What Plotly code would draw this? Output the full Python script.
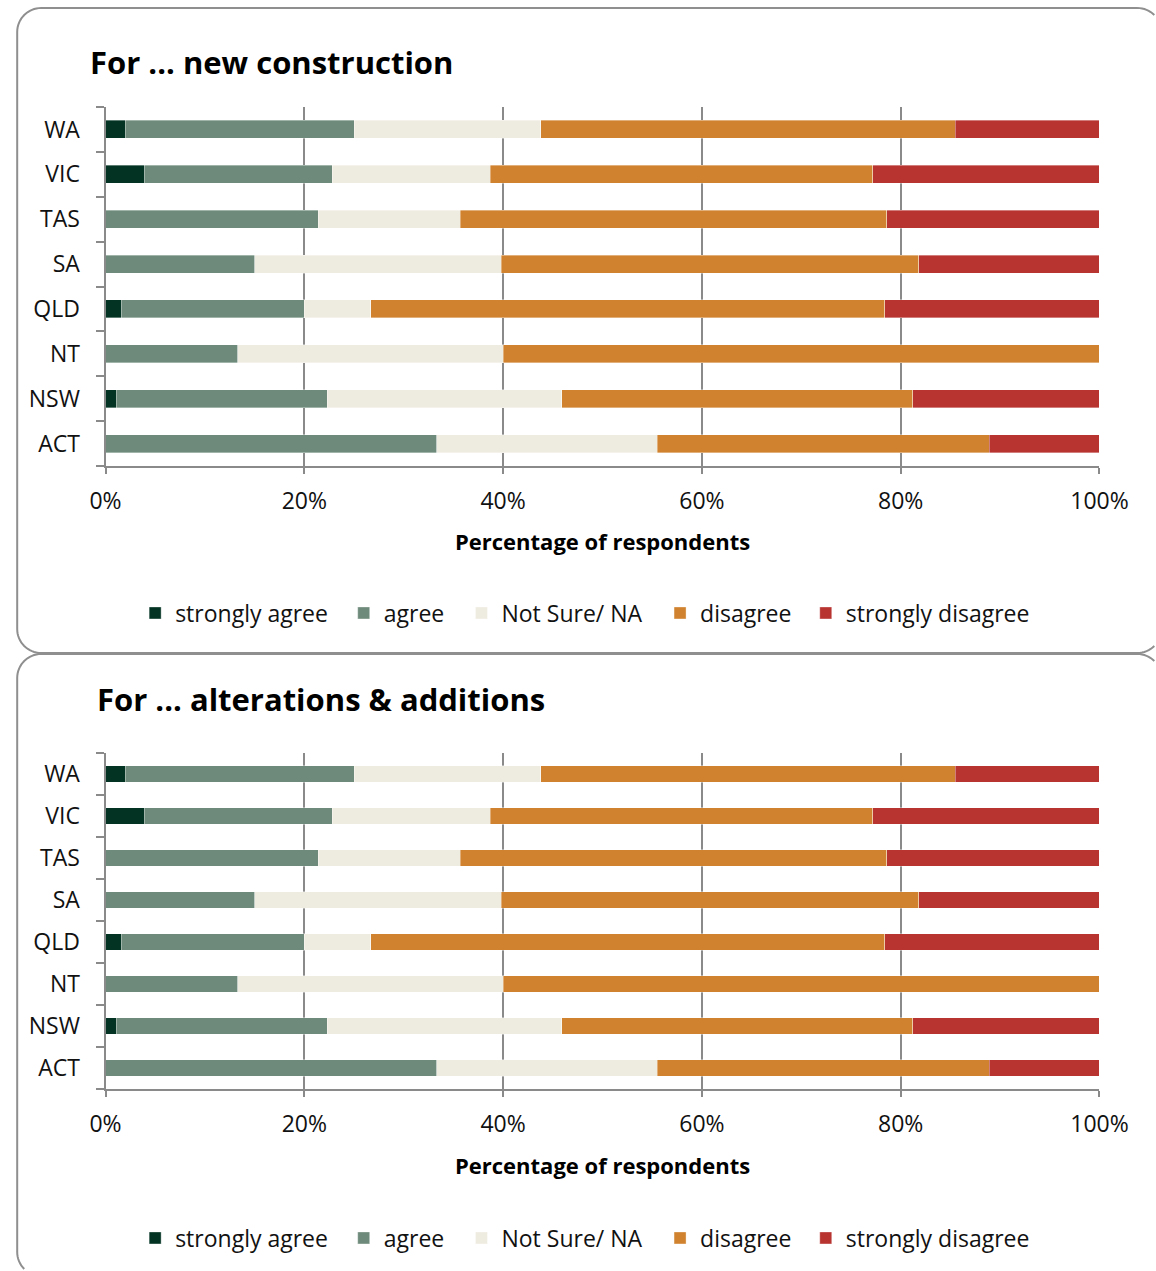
import math
import plotly.graph_objects as go

# Reference picture size and the figure's page size
REF_W, H = 1156, 1271
W = 1185
# observed horizontal mapping from page pixels to picture pixels: pic = A + S * page
A, S = 14.3, 0.964

categories = ["ACT", "NSW", "NT", "QLD", "SA", "TAS", "VIC", "WA"]
series_names = ["strongly agree", "agree", "Not Sure/ NA", "disagree", "strongly disagree"]
series_colors = ["#033322", "#6d8a7a", "#eeebe0", "#d0822e", "#b73431"]
x_tickvals = [0, 20, 40, 60, 80, 100]
x_ticktext = ["0%", "20%", "40%", "60%", "80%", "100%"]

# Panel 1: new construction (percent of respondents)
new_strongly_agree = [0, 1.1, 0, 1.6, 0, 0, 3.9, 2.0]
new_agree = [33.3, 21.2, 13.3, 18.4, 15.0, 21.4, 18.9, 23.0]
new_not_sure = [22.2, 23.6, 26.7, 6.7, 24.8, 14.3, 15.9, 18.8]
new_disagree = [33.4, 35.3, 60.0, 51.7, 42.0, 42.9, 38.5, 41.7]
new_strongly_disagree = [11.1, 18.8, 0, 21.6, 18.2, 21.4, 22.8, 14.5]

# Panel 2: alterations & additions
alt_strongly_agree = [0, 1.1, 0, 1.6, 0, 0, 3.9, 2.0]
alt_agree = [33.3, 21.2, 13.3, 18.4, 15.0, 21.4, 18.9, 23.0]
alt_not_sure = [22.2, 23.6, 26.7, 6.7, 24.8, 14.3, 15.9, 18.8]
alt_disagree = [33.4, 35.3, 60.0, 51.7, 42.0, 42.9, 38.5, 41.7]
alt_strongly_disagree = [11.1, 18.8, 0, 21.6, 18.2, 21.4, 22.8, 14.5]

FONT = "Open Sans"
GRID = "#8a8a8a"
TICK_SIZE = 23


def page_x(ref_px):
    return (ref_px - A) / S


def px_x(ref_px):
    return page_x(ref_px) / W


def px_y(v):
    return 1 - v / H


legend_symbol_x = [152, 361, 479, 678, 824]

panels = [
    dict(data=[new_strongly_agree, new_agree, new_not_sure, new_disagree, new_strongly_disagree],
         xa="x", ya="y", legend_y=613, box=(107, 466)),
    dict(data=[alt_strongly_agree, alt_agree, alt_not_sure, alt_disagree, alt_strongly_disagree],
         xa="x2", ya="y2", legend_y=1238, box=(753, 1089)),
]

fig = go.Figure()
legends = {}
k = 0
for p in panels:
    for si, (name, vals, col) in enumerate(zip(series_names, p["data"], series_colors)):
        k += 1
        lname = "legend" if k == 1 else f"legend{k}"
        fig.add_trace(go.Bar(
            y=categories, x=vals, name=name, orientation="h",
            marker=dict(color=col, line=dict(color="rgba(255,255,255,0.6)", width=0.6)),
            xaxis=p["xa"], yaxis=p["ya"], legend=lname,
            hovertemplate="%{y}: %{x}%<extra>" + name + "</extra>",
        ))
        legends[lname] = dict(
            orientation="h", x=(page_x(legend_symbol_x[si]) - 19) / W, xanchor="left",
            y=px_y(p["legend_y"]), yanchor="middle",
            font=dict(family=FONT, size=TICK_SIZE, color="#111"),
            itemwidth=30, bgcolor="rgba(0,0,0,0)", borderwidth=0,
        )

xaxis_common = dict(
    range=[0, 100], tickmode="array", tickvals=x_tickvals, ticktext=x_ticktext,
    showgrid=True, gridcolor=GRID, gridwidth=2,
    showline=True, linecolor=GRID, linewidth=2,
    ticks="outside", ticklen=6, tickwidth=2, tickcolor=GRID,
    zeroline=False, ticklabelstandoff=7,
    tickfont=dict(family=FONT, size=TICK_SIZE, color="#111"),
    fixedrange=True,
)
yaxis_common = dict(
    type="category", categoryorder="array", categoryarray=categories,
    showgrid=False, showline=True, linecolor=GRID, linewidth=2,
    ticks="outside", tickson="boundaries", ticklen=8, tickwidth=2, tickcolor=GRID,
    ticklabelstandoff=19,
    tickfont=dict(family=FONT, size=TICK_SIZE, color="#111"),
    fixedrange=True,
)

(p1t, p1b), (p2t, p2b) = panels[0]["box"], panels[1]["box"]
fig.update_layout(
    xaxis=dict(domain=[px_x(104), px_x(1100)], anchor="y", **xaxis_common),
    yaxis=dict(domain=[px_y(p1b), px_y(p1t)], anchor="x", **yaxis_common),
    xaxis2=dict(domain=[px_x(104), px_x(1100)], anchor="y2", **xaxis_common),
    yaxis2=dict(domain=[px_y(p2b), px_y(p2t)], anchor="x2", **yaxis_common),
    barmode="stack", bargap=0.6,
    width=W, height=H, autosize=False,
    margin=dict(l=0, r=0, t=0, b=0),
    paper_bgcolor="white", plot_bgcolor="white",
    font=dict(family=FONT, color="#111"),
    showlegend=True,
    **legends,
)


def rounded_frame(x0, y0, x1, y1, r, n=16):
    """Rounded rectangle outline (reference pixels) as a polyline clipped to the page."""
    pts = []
    corners = [((x1 - r, y0 + r), -90, 0), ((x1 - r, y1 - r), 0, 90),
               ((x0 + r, y1 - r), 90, 180), ((x0 + r, y0 + r), 180, 270)]
    for (cx, cy), a0, a1 in corners:
        for i in range(n + 1):
            a = math.radians(a0 + (a1 - a0) * i / n)
            pts.append((cx + r * math.cos(a), cy + r * math.sin(a)))
    pts.append(pts[0])
    inside = lambda q: 0.5 <= page_x(q[0]) <= W - 0.5 and 0 <= q[1] <= H - 0.5
    segs, cur = [], []
    for q in pts:
        if inside(q):
            cur.append(q)
        else:
            if len(cur) > 1:
                segs.append(cur)
            cur = []
    if len(cur) > 1:
        segs.append(cur)
    path = ""
    for s in segs:
        path += "M " + " L ".join(f"{px_x(a):.5f},{px_y(b):.5f}" for a, b in s) + " "
    return path.strip()


FRAME_LEFT = 15.5
fig.update_layout(shapes=[
    dict(type="path", xref="paper", yref="paper", path=rounded_frame(FRAME_LEFT, 8, 1162, 653, 24),
         line=dict(color="#8f8f8f", width=2), layer="below"),
    dict(type="path", xref="paper", yref="paper", path=rounded_frame(FRAME_LEFT, 654, 1162, 1276, 24),
         line=dict(color="#8f8f8f", width=2), layer="below"),
])

fig.update_layout(annotations=[
    dict(text="<b>For ... new construction</b>", x=px_x(86), y=px_y(62), xref="paper", yref="paper",
         xanchor="left", yanchor="middle", showarrow=False, font=dict(family=FONT, size=31, color="#000")),
    dict(text="<b>For ... alterations &amp; additions</b>", x=px_x(93), y=px_y(699), xref="paper", yref="paper",
         xanchor="left", yanchor="middle", showarrow=False, font=dict(family=FONT, size=31, color="#000")),
    dict(text="<b>Percentage of respondents</b>", x=px_x(602), y=px_y(541), xref="paper", yref="paper",
         xanchor="center", yanchor="middle", showarrow=False, font=dict(family=FONT, size=22, color="#000")),
    dict(text="<b>Percentage of respondents</b>", x=px_x(602), y=px_y(1165), xref="paper", yref="paper",
         xanchor="center", yanchor="middle", showarrow=False, font=dict(family=FONT, size=22, color="#000")),
])

fig.write_html(
    "out.html",
    config={"responsive": False, "displayModeBar": False},
    post_script="document.body.style.margin='0';document.body.style.overflow='hidden';",
)
